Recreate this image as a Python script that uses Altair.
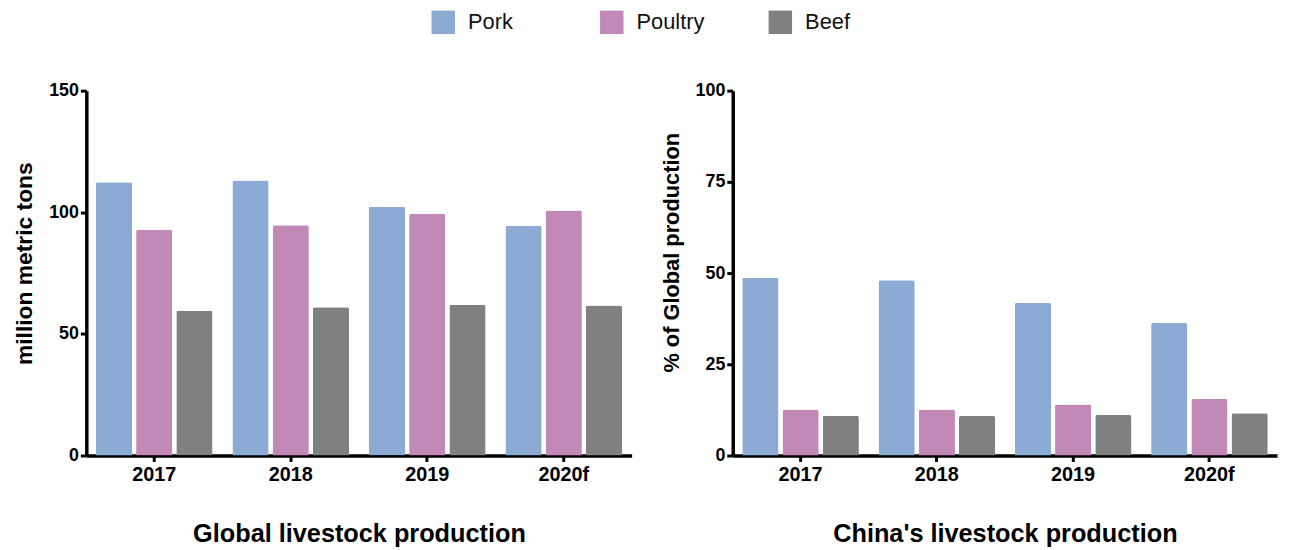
import altair as alt
import pandas as pd

years = ["2017", "2018", "2019", "2020f"]
meats = ["Pork", "Poultry", "Beef"]
colors = ["#8BAAD4", "#C288B6", "#808080"]

global_pork = [112.3, 113.1, 102.3, 94.5]
global_poultry = [92.8, 94.7, 99.4, 100.7]
global_beef = [59.5, 60.9, 62.0, 61.7]

china_pork = [48.7, 48.0, 41.9, 36.3]
china_poultry = [12.6, 12.6, 14.0, 15.5]
china_beef = [10.9, 10.8, 11.1, 11.6]


def long(p, q, b):
    rows = []
    for i, y in enumerate(years):
        for m, vals in zip(meats, [p, q, b]):
            rows.append({"year": y, "meat": m, "value": vals[i]})
    return pd.DataFrame(rows)


df_g = long(global_pork, global_poultry, global_beef)
df_c = long(china_pork, china_poultry, china_beef)

FONT = "Liberation Sans"

color = alt.Color(
    "meat:N",
    sort=meats,
    scale=alt.Scale(domain=meats, range=colors),
    legend=alt.Legend(
        title=None,
        orient="none",
        direction="horizontal",
        legendX=348,
        legendY=-81,
        symbolType="square",
        symbolSize=560,
        symbolStrokeWidth=0,
        symbolOpacity=1,
        labelFontSize=22,
        labelFont=FONT,
        labelColor="#111111",
        labelOffset=13,
        gridAlign="all",
        columnPadding=64,
    ),
)


def panel(df, ymax, ticks, ytitle, xtitle, w, h, ytsize, ty):
    return (
        alt.Chart(df)
        .mark_bar(cornerRadiusTopLeft=2, cornerRadiusTopRight=2, opacity=1)
        .encode(
            x=alt.X(
                "year:N",
                sort=years,
                scale=alt.Scale(paddingInner=0.146, paddingOuter=0.07),
                axis=alt.Axis(
                    title=xtitle,
                    labelAngle=0,
                    labelFontSize=20,
                    labelFontWeight="bold",
                    labelFont=FONT,
                    labelColor="black",
                    labelPadding=3,
                    titleFontSize=25.5,
                    titleFontWeight="bold",
                    titleFont=FONT,
                    titleColor="black",
                    titlePadding=38,
                    domainWidth=3.5,
                    domainColor="black",
                    tickWidth=3,
                    tickSize=6,
                    tickColor="black",
                ),
            ),
            xOffset=alt.XOffset("meat:N", sort=meats, scale=alt.Scale(paddingInner=0.1)),
            y=alt.Y(
                "value:Q",
                scale=alt.Scale(domain=[0, ymax], nice=False),
                axis=alt.Axis(
                    title=ytitle,
                    values=ticks,
                    grid=False,
                    labelFontSize=18,
                    labelFontWeight="bold",
                    labelFont=FONT,
                    labelColor="black",
                    labelPadding=2,
                    titleFontSize=ytsize,
                    titleFontWeight="bold",
                    titleFont=FONT,
                    titleColor="black",
                    titlePadding=12,
                    titleY=ty,
                    domainWidth=3.5,
                    domainColor="black",
                    tickWidth=3,
                    tickSize=6,
                    tickColor="black",
                ),
            ),
            color=color,
        )
        .properties(width=w, height=h)
    )


left = panel(df_g, 150, [0, 50, 100, 150], "million metric tons", "Global livestock production", 550, 368, 23, 174)
right = panel(df_c, 100, [0, 25, 50, 75, 100], "% of Global production", "China's livestock production", 549, 368, 22, 163)

chart = (
    alt.hconcat(left, right, spacing=28)
    .properties(padding={"left": 5, "top": 0, "right": 5, "bottom": 5}, background="white")
    .configure_view(stroke=None, strokeWidth=0)
)

chart.save("out.html", embed_options={"renderer": "svg", "actions": False})
